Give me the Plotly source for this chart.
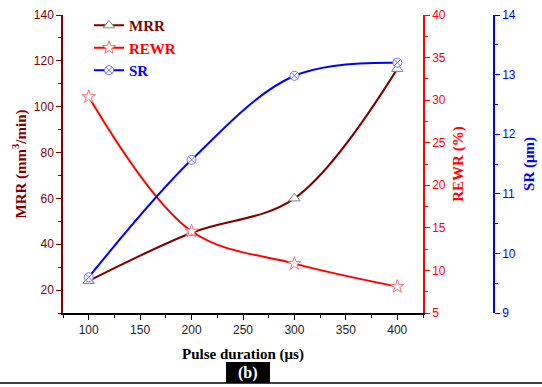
import plotly.graph_objects as go

pulse = [100, 200, 300, 400]
mrr = [24, 45, 60, 116.5]
rewr = [30.4, 14.6, 10.8, 8.1]
sr = [9.6, 11.57, 12.98, 13.2]

W, H = 542, 387
L, R, T, B = 63, 48, 15, 74
PW = W - L - R
PH = H - T - B
def px(x):
    return (x - L) / PW
def py(y):
    return (H - B - y) / PH

DR = "#7f0000"
RED = "#ff0000"
BLUE = "#0000ff"
serif = '"Liberation Serif", "Times New Roman", Times, serif'
sans = '"Liberation Sans", Arial, Helvetica, sans-serif'

def colored(text, color):
    return f"<span style='color:{color}'>{text}</span>"

fig = go.Figure()
fig.add_trace(go.Scatter(x=pulse, y=mrr, name=colored("MRR", DR), mode="lines+markers",
    line=dict(color=DR, width=2, shape="spline", smoothing=1),
    marker=dict(symbol="triangle-up", size=10, color="white", line=dict(color="#808080", width=1)),
    yaxis="y"))
fig.add_trace(go.Scatter(x=pulse, y=rewr, name=colored("REWR", RED), mode="lines+markers",
    line=dict(color=RED, width=2, shape="spline", smoothing=1),
    marker=dict(symbol="star", size=10, color="white", line=dict(color="#ff7070", width=1)),
    yaxis="y2"))
fig.add_trace(go.Scatter(x=pulse, y=sr, name=colored("SR", BLUE), mode="lines+markers",
    line=dict(color=BLUE, width=2, shape="spline", smoothing=1),
    marker=dict(symbol="circle-x", size=9, color="white", line=dict(color="#7070ff", width=1)),
    yaxis="y3"))

xdom_end = (423 - L) / PW

fig.update_layout(
    width=W, height=H,
    margin=dict(l=L, r=R, t=T, b=B, autoexpand=False),
    plot_bgcolor="white", paper_bgcolor="white",
    showlegend=True,
    legend=dict(x=px(89), y=py(9), xanchor="left", yanchor="top",
                font=dict(family=serif, size=15, color="black", weight="bold"),
                bgcolor="rgba(0,0,0,0)", tracegroupgap=0, itemwidth=30),
    xaxis=dict(domain=[0, xdom_end], range=[75, 425], tickvals=[100, 150, 200, 250, 300, 350, 400],
               showline=True, linecolor="black", linewidth=1.5, ticks="outside", ticklen=5,
               tickcolor="black", showgrid=False, zeroline=False, automargin=False,
               tickfont=dict(family=sans, size=12, color="#222222"),
               minor=dict(dtick=25, ticks="outside", ticklen=3, tickcolor="black"),
               title=dict(text="Pulse duration (μs)", font=dict(family=serif, size=15, color="black", weight="bold"), standoff=12)),
    yaxis=dict(range=[10, 140], tickvals=[20, 40, 60, 80, 100, 120, 140],
               showline=True, linecolor=DR, linewidth=1.5, ticks="outside", ticklen=5,
               tickcolor=DR, showgrid=False, zeroline=False, automargin=False,
               tickfont=dict(family=sans, size=12, color=DR),
               minor=dict(dtick=10, ticks="outside", ticklen=3, tickcolor=DR),
               title=dict(text="MRR (mm<sup>3</sup>/min)", font=dict(family=serif, size=15, color=DR, weight="bold"), standoff=4)),
    yaxis2=dict(range=[5, 40], tickvals=[5, 10, 15, 20, 25, 30, 35, 40], overlaying="y", side="right", anchor="x",
               showline=True, linecolor=RED, linewidth=1.5, ticks="outside", ticklen=5,
               tickcolor=RED, showgrid=False, zeroline=False, automargin=False,
               tickfont=dict(family=sans, size=12, color=RED),
               minor=dict(dtick=2.5, ticks="outside", ticklen=3, tickcolor=RED),
               title=dict(text="REWR (%)", font=dict(family=serif, size=15, color=RED, weight="bold"), standoff=8)),
    yaxis3=dict(range=[9, 14], tickvals=[9, 10, 11, 12, 13, 14], overlaying="y", side="right", anchor="free", position=1.0,
               showline=True, linecolor=BLUE, linewidth=1.5, ticks="outside", ticklen=5,
               tickcolor=BLUE, showgrid=False, zeroline=False, automargin=False,
               tickfont=dict(family=sans, size=12, color=BLUE),
               minor=dict(dtick=0.5, ticks="outside", ticklen=3, tickcolor=BLUE),
               title=dict(text="SR (μm)", font=dict(family=serif, size=15, color=BLUE, weight="bold"), standoff=8)),
    shapes=[
        dict(type="line", xref="paper", yref="paper", x0=px(0), x1=px(W), y0=py(383), y1=py(383),
             line=dict(color="black", width=1.5)),
        dict(type="rect", xref="paper", yref="paper", x0=px(226), x1=px(270), y0=py(383), y1=py(362),
             fillcolor="black", line=dict(width=0)),
    ],
    annotations=[
        dict(text="(b)", xref="paper", yref="paper", x=px(248), y=py(372.5), showarrow=False,
             font=dict(family=serif, size=16, color="white", weight="bold"), xanchor="center", yanchor="middle"),
    ],
)

fig.write_html("out.html", config={"displayModeBar": False},
               post_script="document.body.style.margin='0';document.body.style.overflow='hidden';")
